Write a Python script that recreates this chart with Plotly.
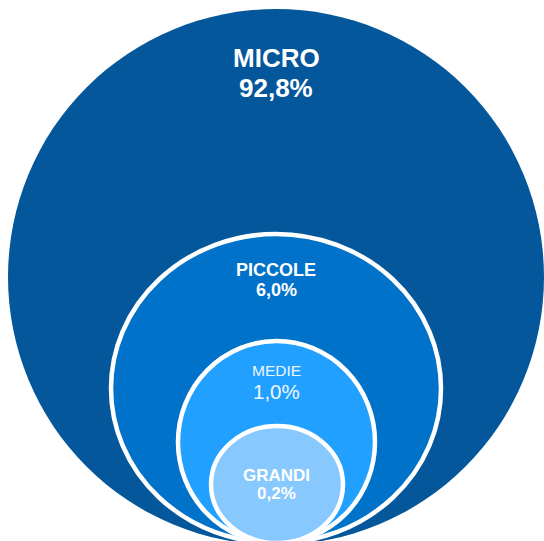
import plotly.graph_objects as go

# ---- data ----
categories = ["MICRO", "PICCOLE", "MEDIE", "GRANDI"]
values = [92.8, 6.0, 1.0, 0.2]

# ---- layout / style (pixel space of the 544x541 canvas) ----
W, H = 544, 541
fills = ["#03579A", "#0172CA", "#22A0FF", "#87C8FF"]
# ellipse boxes (x0, x1, y0, y1), y measured downward
boxes = [
    (8, 544, 9, 545),
    (111, 441, 234, 543),
    (178, 375, 341, 543),
    (211, 343, 426, 543),
]
border_w = [0, 4.5, 4.5, 4.5]
# label styling: (name y, value y, name size, value size, bold)
label_pos = [
    (58, 87.5, 26, 26, True),
    (269.5, 290, 18, 18, True),
    (370, 391.5, 15.5, 20.5, False),
    (475, 493, 17, 17, True),
]
text_colors = ["#FFFFFF", "#FFFFFF", "#EEF6FF", "#FFFFFF"]

fig = go.Figure()
shapes = []
for (x0, x1, y0, y1), fc, bw in zip(boxes, fills, border_w):
    shapes.append(dict(
        type="circle", xref="x", yref="y",
        x0=x0, x1=x1, y0=y0, y1=y1,
        fillcolor=fc,
        line=dict(color="white", width=bw) if bw else dict(width=0),
        layer="below",
    ))

annotations = []
cx = W / 2 + 4
for cat, val, (yn, yv, sn, sv, bold), tc in zip(categories, values, label_pos, text_colors):
    vtxt = f"{val:.1f}".replace(".", ",") + "%"
    ntxt = f"<b>{cat}</b>" if bold else cat
    vtxt = f"<b>{vtxt}</b>" if bold else vtxt
    annotations.append(dict(x=cx, y=yn, xref="x", yref="y", text=ntxt, showarrow=False,
                            xanchor="center", yanchor="middle",
                            font=dict(family="Liberation Sans, Arial", size=sn, color=tc)))
    annotations.append(dict(x=cx, y=yv, xref="x", yref="y", text=vtxt, showarrow=False,
                            xanchor="center", yanchor="middle",
                            font=dict(family="Liberation Sans, Arial", size=sv, color=tc)))

fig.update_layout(
    width=W, height=H,
    margin=dict(l=0, r=0, t=0, b=0),
    paper_bgcolor="white", plot_bgcolor="white",
    xaxis=dict(range=[0, W], visible=False, fixedrange=True),
    yaxis=dict(range=[H, 0], visible=False, fixedrange=True),
    shapes=shapes, annotations=annotations, showlegend=False,
)
fig.write_html("out.html", config=dict(displayModeBar=False))
